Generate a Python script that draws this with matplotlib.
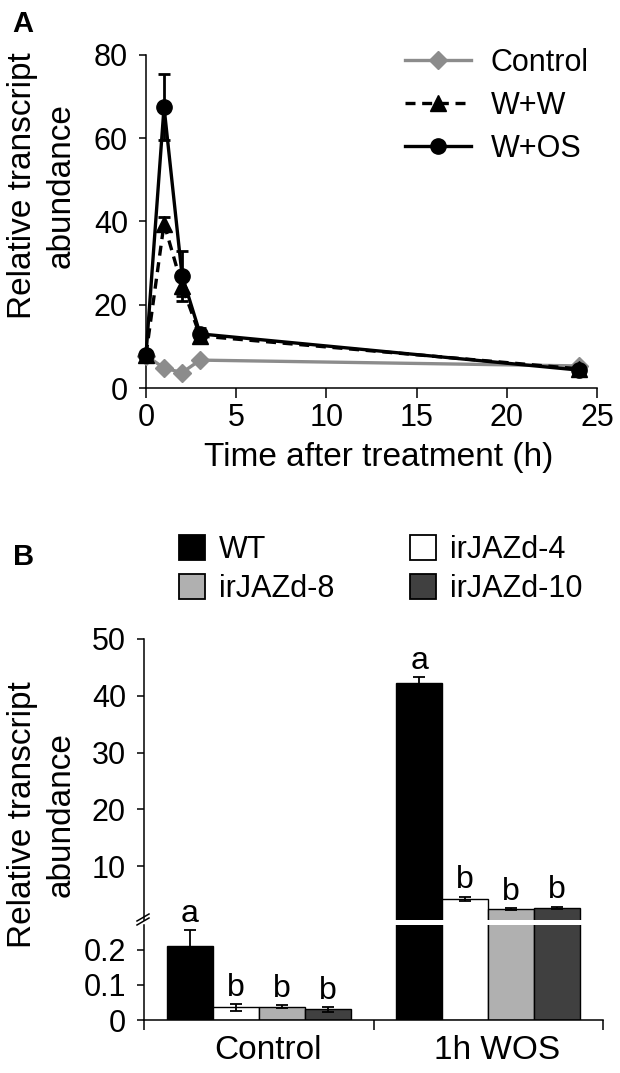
import numpy as np
import matplotlib.pyplot as plt
from matplotlib.patches import Patch
from matplotlib.lines import Line2D

plt.rcParams['font.family'] = ['Liberation Sans', 'DejaVu Sans']

# panel A: time course
hours = [0, 1, 2, 3, 24]
ctrl = [7.8, 4.8, 3.7, 6.7, 5.3]
ctrl_err = [0.4, 0.3, 0.3, 0.4, 0.3]
ww = [8.0, 39.5, 24.5, 12.5, 4.6]
ww_err = [0.8, 1.5, 2.5, 1.0, 0.4]
wos = [8.0, 67.5, 27.0, 13.0, 4.3]
wos_err = [0.8, 8.0, 6.0, 1.5, 0.4]

# panel B: lines x treatment
groups = ['Control', '1h WOS']
lines = ['WT', 'irJAZd-4', 'irJAZd-8', 'irJAZd-10']
b_ctrl = [0.212, 0.036, 0.038, 0.030]
b_ctrl_err = [0.045, 0.010, 0.005, 0.006]
b_wos = [42.3, 4.2, 2.4, 2.65]
b_wos_err = [1.0, 0.4, 0.15, 0.2]
letters_ctrl = ['a', 'b', 'b', 'b']
letters_wos = ['a', 'b', 'b', 'b']
bar_colors = ['black', 'white', '#b0b0b0', '#404040']

GRAY = '#8c8c8c'
W, H = 620, 1073


def fx(px):
    return px / W


def fy(py):
    return 1 - py / H


def no_clip(container):
    for part in container.get_children():
        part.set_clip_on(False)


def style_axes(ax):
    ax.patch.set_visible(False)
    for s in ['top', 'right']:
        ax.spines[s].set_visible(False)
    for s in ['left', 'bottom']:
        ax.spines[s].set_linewidth(1.1)
    ax.tick_params(axis='y', direction='out', length=5, width=1.1, pad=8, labelsize=22)
    ax.tick_params(axis='x', direction='out', length=7, width=1.1, pad=4, labelsize=22)


fig = plt.figure(figsize=(6.2, 10.73), dpi=100)

# ---------------- panel A ----------------
axA = fig.add_axes([fx(146), fy(388), fx(597) - fx(146), fy(55) - fy(388)])
style_axes(axA)

c = axA.errorbar(hours, ctrl, yerr=ctrl_err, color=GRAY, marker='D', ms=9, lw=2.4,
                 capsize=4.5, capthick=2, elinewidth=2, label='Control', zorder=3)
no_clip(c)
c = axA.errorbar(hours, ww, yerr=ww_err, color='black', marker='^', ms=11, lw=2.4,
                 ls=(0, (3, 2)), capsize=4.5, capthick=2, elinewidth=2,
                 label='W+W', zorder=4)
no_clip(c)
c[2][0].set_linestyle('-')
c = axA.errorbar(hours, wos, yerr=wos_err, color='black', marker='o', ms=11, lw=2.4,
                 capsize=4.5, capthick=2, elinewidth=2, label='W+OS', zorder=5)
no_clip(c)

axA.set_xlim(0, 25)
axA.set_ylim(0, 80)
axA.set_xticks(np.arange(0, 26, 5))
axA.set_yticks(np.arange(0, 81, 20))

handlesA = [
    Line2D([], [], color=GRAY, marker='D', ms=9, lw=2.4),
    Line2D([], [], color='black', marker='^', ms=11, lw=2.4, ls=(0, (3, 2))),
    Line2D([], [], color='black', marker='o', ms=11, lw=2.4),
]
fig.legend(handlesA, ['Control', 'W+W', 'W+OS'], loc='upper left',
           bbox_to_anchor=(fx(405), fy(48)), frameon=False, fontsize=22,
           handlelength=2.15, handletextpad=0.65, labelspacing=0.42,
           borderpad=0, borderaxespad=0)

fig.text(fx(42), fy(186), 'Relative transcript\nabundance', rotation=90,
         ha='center', va='center', fontsize=24, multialignment='center',
         linespacing=1.3)
fig.text(fx(379), fy(457), 'Time after treatment (h)', ha='center', va='center',
         fontsize=24)
fig.text(fx(12), fy(24), 'A', fontsize=21, fontweight='bold', ha='left', va='center')

# ---------------- panel B ----------------
x = np.arange(len(groups))
offsets = (np.arange(len(lines)) - 1.5) * 0.2
vals = [[b_ctrl[i], b_wos[i]] for i in range(len(lines))]
errs = [[b_ctrl_err[i], b_wos_err[i]] for i in range(len(lines))]

axL = fig.add_axes([fx(144), fy(1020), fx(603) - fx(144), fy(925) - fy(1020)])
axU = fig.add_axes([fx(144), fy(920), fx(603) - fx(144), fy(639) - fy(920)])

for ax in (axL, axU):
    style_axes(ax)
    for i in range(len(lines)):
        ax.bar(x + offsets[i], vals[i], width=0.2, color=bar_colors[i],
               edgecolor='black', linewidth=1.0, yerr=errs[i],
               error_kw=dict(ecolor='black', elinewidth=1.3, capsize=4.5, capthick=1.3))
    ax.set_xlim(-0.5, 1.5)

axL.set_ylim(0, 0.2714)
axL.set_yticks([0, 0.1, 0.2])
axL.set_yticklabels(['0', '0.1', '0.2'])
axL.set_xticks([-0.5, 0.5, 1.5])
axL.set_xticklabels([])
axL.set_xticks(x + 0.04, minor=True)
axL.set_xticklabels(groups, minor=True)
axL.tick_params(axis='x', which='minor', length=0, pad=11, labelsize=24)

axU.set_ylim(0.485, 50)
axU.set_yticks([10, 20, 30, 40, 50])
axU.spines['bottom'].set_visible(False)
axU.set_xticks([])

for i in range(len(lines)):
    axL.annotate(letters_ctrl[i], (x[0] + offsets[i], b_ctrl[i] + b_ctrl_err[i]),
                 xytext=(0, 6), textcoords='offset points', ha='center',
                 va='baseline', fontsize=23, zorder=10, annotation_clip=False)
    axU.annotate(letters_wos[i], (x[1] + offsets[i], b_wos[i] + b_wos_err[i]),
                 xytext=(0, 6), textcoords='offset points', ha='center',
                 va='baseline', fontsize=23, zorder=10, annotation_clip=False)

# axis break marks
for dy in (0, 4):
    fig.add_artist(Line2D([fx(137), fx(149)], [fy(921 + dy), fy(914 + dy)],
                          color='black', lw=1.1))

handlesB = [Patch(facecolor=col, edgecolor='black', linewidth=1.3) for col in bar_colors]
order = [0, 2, 1, 3]
fig.legend([handlesB[k] for k in order], [lines[k] for k in order], ncol=2,
           loc='upper left', bbox_to_anchor=(fx(179), fy(535)), frameon=False,
           fontsize=22, handlelength=0.85, handleheight=0.85, handletextpad=0.45,
           columnspacing=2.5, labelspacing=0.3, borderpad=0, borderaxespad=0)

fig.text(fx(42), fy(815), 'Relative transcript\nabundance', rotation=90,
         ha='center', va='center', fontsize=24, multialignment='center',
         linespacing=1.3)
fig.text(fx(13), fy(557), 'B', fontsize=21, fontweight='bold', ha='left', va='center')

fig.savefig('out.png', dpi=100)
